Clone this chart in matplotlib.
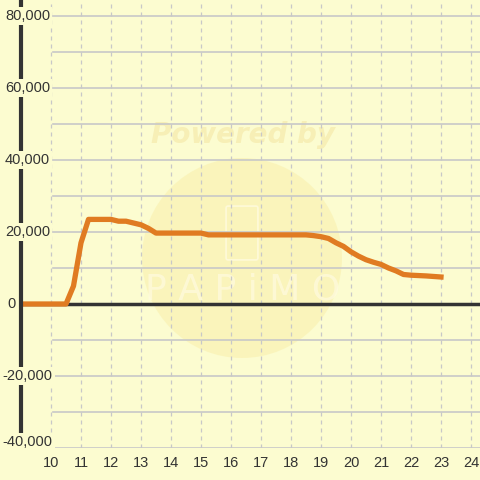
import matplotlib
matplotlib.use("Agg")
import matplotlib.pyplot as plt
import matplotlib.transforms as mtransforms
from matplotlib.patches import Circle, FancyBboxPatch

# ---- data ----
hours = [9, 10.5, 10.75, 11.0, 11.25, 12.0, 12.25, 12.5, 12.75, 13.0, 13.25, 13.5,
         15.0, 15.25, 18.5, 18.75, 19.0, 19.25, 19.5, 19.75, 20.0, 20.25, 20.5,
         20.75, 21.0, 21.25, 21.5, 21.75, 22.0, 22.5, 23.0]
values = [0, 0, 5000, 17000, 23500, 23500, 23000, 23000, 22500, 22000, 21000, 19700,
          19700, 19200, 19200, 19000, 18700, 18200, 17000, 16000, 14500, 13300, 12300,
          11600, 11000, 10000, 9200, 8200, 8000, 7800, 7500]
x_ticks = list(range(10, 25))
y_ticks = [-40000, -20000, 0, 20000, 40000, 60000, 80000]
y_minor = [-30000, -10000, 10000, 30000, 50000, 70000]
y_labels = ["-40,000", "-20,000", "0", "20,000", "40,000", "60,000", "80,000"]

BG = "#fcfcd0"
W, H = 480, 480
fig = plt.figure(figsize=(4.8, 4.8), dpi=100, facecolor=BG)
left_px, bottom_px = 21, 448
ax = fig.add_axes([left_px / W, (H - bottom_px) / H, (W - left_px) / W, bottom_px / H])
ax.set_facecolor(BG)
ax.set_xlim(9, 9 + (W - left_px) / 30)
ax.set_ylim(-40000, -40000 + bottom_px / 72 * 20000)

for s in ["top", "right", "bottom"]:
    ax.spines[s].set_visible(False)
ax.spines["left"].set_color("#333333")
ax.spines["left"].set_linewidth(3)
ax.spines["left"].set_zorder(4)

# watermark (behind grid and data)
ax.add_patch(Circle((242 / W, 1 - 258 / H), 100 / W, transform=fig.transFigure,
                    facecolor="#f9f0ae", edgecolor="none", alpha=0.6, zorder=0.2,
                    clip_on=False))
ax.text(243 / W, 1 - 135 / H, "Powered by", ha="center", va="center", fontsize=20,
        fontweight="bold", style="italic", color="#f7efb6", family="DejaVu Sans",
        zorder=0.3, transform=fig.transFigure)
ax.text(243 / W, 1 - 290 / H, "P A P i M O", ha="center", va="center", fontsize=26,
        color="#fffbe0", family="DejaVu Sans", zorder=0.3, alpha=0.7,
        transform=fig.transFigure)
ax.add_patch(FancyBboxPatch((228 / W, 1 - 258 / H), 28 / W, 50 / H,
                            boxstyle="round,pad=0.004", transform=fig.transFigure,
                            facecolor="none", edgecolor="#fffbe0", lw=1.2, zorder=0.3,
                            alpha=0.8, clip_on=False))

# grids
xmin_frac = (53 - left_px) / (W - left_px)
for yv in y_ticks + y_minor:
    if yv == 0:
        continue
    ax.axhline(yv, xmin=xmin_frac, xmax=1, color="#c8c8c8", lw=1.2, zorder=1)
for xv in x_ticks:
    ax.axvline(xv, color="#c8c8c8", lw=0.9, ls=(0, (3.2, 3.2)), zorder=1)
ax.axhline(0, color="#333333", lw=2.5, zorder=2)

ax.plot(hours, values, color="#e07b22", lw=3.8, zorder=3, solid_joinstyle="round")

ax.set_xticks(x_ticks)
ax.set_xticklabels([str(t) for t in x_ticks], fontsize=10.5, color="#333333",
                   family="Liberation Sans")
ax.tick_params(axis="x", length=0, pad=6)
ax.set_yticks([])

trans = mtransforms.blended_transform_factory(fig.transFigure, ax.transData)
for yv, lab in zip(y_ticks, y_labels):
    xp = 11.5 if lab == "0" else 27.5
    off = mtransforms.offset_copy(trans, fig=fig, x=0, y=(6 if yv == y_ticks[0] else 0),
                                  units="dots")
    ax.text(xp / W, yv, lab, transform=off,
            ha="center", va="center", fontsize=10.5, color="#333333", family="Liberation Sans",
            zorder=5, bbox=dict(facecolor=BG, edgecolor="none", pad=1.5), clip_on=False)

fig.savefig("out.png", dpi=100, facecolor=BG)
